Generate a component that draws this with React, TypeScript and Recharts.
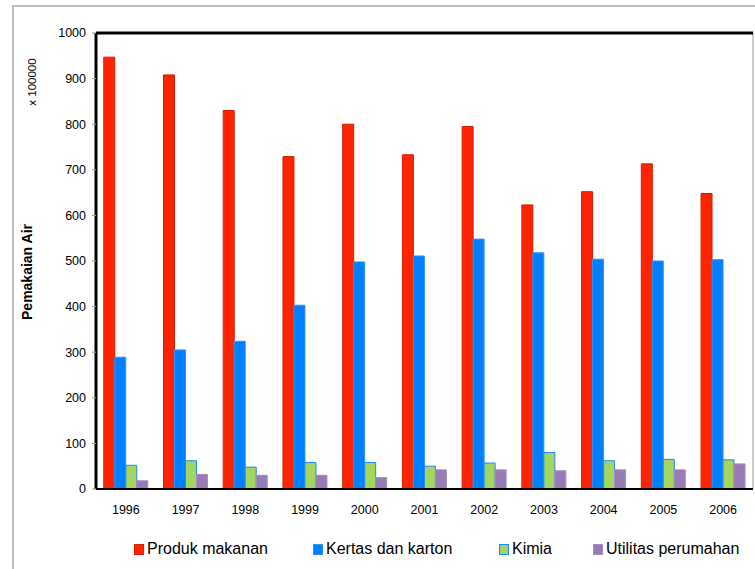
import React from "react";
import { BarChart, Bar, XAxis, YAxis, ReferenceLine, ReferenceArea, Label } from "recharts";

const years = ["1996", "1997", "1998", "1999", "2000", "2001", "2002", "2003", "2004", "2005", "2006"];
const produkMakanan = [947, 908, 830, 729, 800, 733, 795, 623, 652, 713, 648];
const kertasKarton = [289, 305, 324, 403, 498, 511, 548, 518, 504, 500, 503];
const kimia = [52, 62, 48, 58, 58, 50, 57, 80, 62, 65, 64];
const utilitas = [18, 32, 30, 30, 25, 42, 42, 40, 42, 42, 55];
const yTicks = [0, 100, 200, 300, 400, 500, 600, 700, 800, 900, 1000];

const series = [
  { key: "produk", name: "Produk makanan", values: produkMakanan, fill: "#FF2400", stroke: "#D42000" },
  { key: "kertas", name: "Kertas dan karton", values: kertasKarton, fill: "#0080FF", stroke: "#2E93FF" },
  { key: "kimia", name: "Kimia", values: kimia, fill: "#A3D65F", stroke: "#1E88FF" },
  { key: "utilitas", name: "Utilitas perumahan", values: utilitas, fill: "#977BB6", stroke: "#A58DC0" },
];

const data = years.map((y, i) => {
  const row: Record<string, string | number> = { year: y };
  series.forEach((s) => {
    row[s.key] = s.values[i];
  });
  return row;
});

const FONT = "'Liberation Sans', Arial, sans-serif";

export default function App() {
  return (
    <div style={{ position: "absolute", left: 0, top: 0, width: 755, height: 569, overflow: "hidden", background: "#fff", fontFamily: FONT }}>
      <div style={{ position: "absolute", left: 12, top: 5, width: 800, height: 600, border: "2px solid #bdbdbd", boxSizing: "border-box" }} />
      <div style={{ position: "absolute", left: 0, top: 0 }}>
        <BarChart
          width={755}
          height={569}
          data={data}
          margin={{ top: 33, right: 2, bottom: 50, left: 0 }}
          barCategoryGap="13%"
          barGap={0}
        >
          <ReferenceArea y1={0} y2={1000} fill="none" stroke="#9a9a9a" strokeWidth={1} />
          <XAxis
            dataKey="year"
            height={30}
            axisLine={{ stroke: "#000", strokeWidth: 2 }}
            tickLine={false}
            tick={{ fill: "#000", fontSize: 12.5, fontFamily: FONT }}
            tickMargin={10}
          />
          <YAxis
            width={96}
            domain={[0, 1000]}
            ticks={yTicks}
            interval={0}
            axisLine={{ stroke: "#000", strokeWidth: 3 }}
            tickLine={{ stroke: "#999" }}
            tickSize={4}
            tickMargin={6}
            tick={{ fill: "#000", fontSize: 12.5, fontFamily: FONT }}
          >
            <Label
              content={() => (
                <text x={27} y={272} transform="rotate(-90 27 272)" textAnchor="middle" dominantBaseline="central" fontSize={14} fontWeight="bold" fontFamily={FONT} fill="#000">
                  Pemakaian Air
                </text>
              )}
            />
            <Label
              content={() => (
                <text x={32} y={82} transform="rotate(-90 32 82)" textAnchor="middle" dominantBaseline="central" fontSize={11.5} fontFamily={FONT} fill="#000">
                  x 100000
                </text>
              )}
            />
          </YAxis>
          {series.map((s) => (
            <Bar key={s.key} dataKey={s.key} name={s.name} fill={s.fill} stroke={s.stroke} strokeWidth={1} isAnimationActive={false} />
          ))}
          <ReferenceLine y={1000} stroke="#000" strokeWidth={3} />
        </BarChart>
      </div>
      <div style={{ position: "absolute", left: 0, top: 540, width: 755, height: 20 }}>
        {series.map((s, i) => {
          const lefts = [134, 313, 499, 593];
          return (
            <div key={s.key} style={{ position: "absolute", left: lefts[i], top: 0, display: "flex", alignItems: "center", height: 18, whiteSpace: "nowrap" }}>
              <span style={{ display: "inline-block", width: 8, height: 9, background: s.fill, border: `1px solid ${s.stroke}`, marginRight: 3 }} />
              <span style={{ fontSize: 16, color: "#000", fontFamily: FONT }}>{s.name}</span>
            </div>
          );
        })}
      </div>
    </div>
  );
}
